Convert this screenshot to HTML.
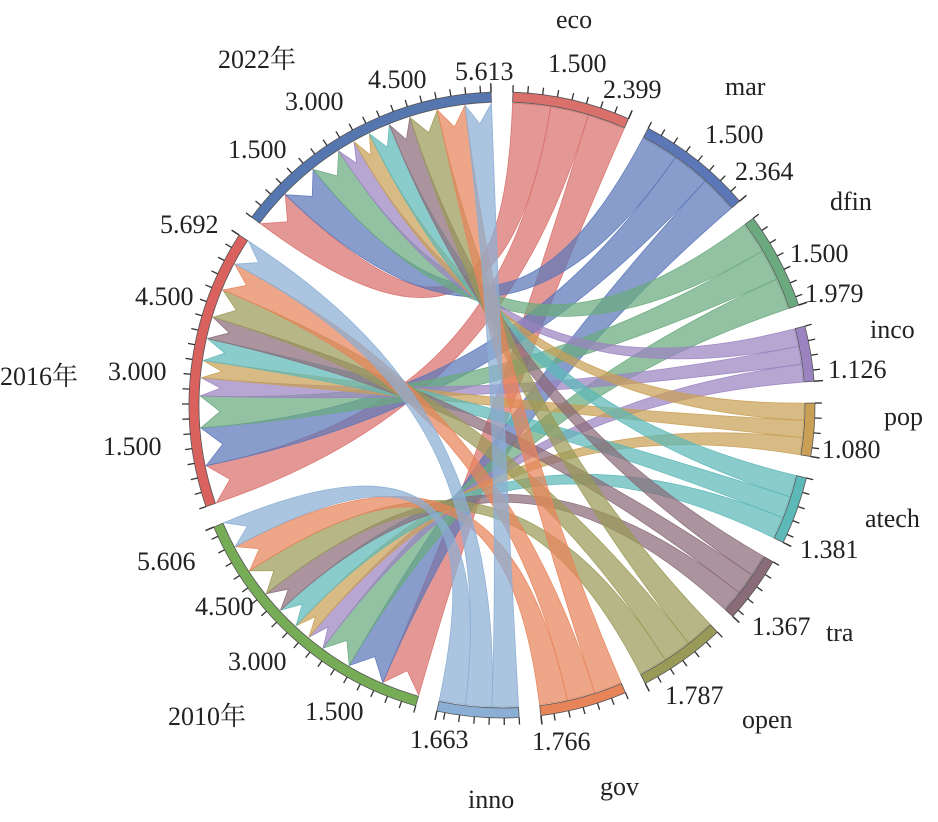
<!DOCTYPE html>
<html><head><meta charset="utf-8">
<style>
html,body{margin:0;padding:0;background:#fff;}
svg{display:block;}
text{font-family:"Liberation Serif","Noto Serif CJK SC",serif;font-size:26px;fill:#222;}
</style></head>
<body>
<svg id="s" width="938" height="822" viewBox="0 0 938 822" xmlns="http://www.w3.org/2000/svg">
<g id="rib"></g><g id="ring"></g>
<text x="556" y="28">eco</text>
<text x="455" y="80">5.613</text><text x="548" y="72">1.500</text><text x="603" y="98">2.399</text>
<text x="368" y="88">4.500</text><text x="285" y="110">3.000</text><text x="228" y="158">1.500</text><text x="218" y="68">2022年</text>
<text x="725" y="95">mar</text><text x="705" y="143">1.500</text><text x="735" y="180">2.364</text>
<text x="830" y="210">dfin</text><text x="790" y="262">1.500</text><text x="805" y="302">1.979</text>
<text x="870" y="338">inco</text><text x="828" y="378">1.126</text>
<text x="884" y="425">pop</text><text x="822" y="458">1.080</text>
<text x="865" y="527">atech</text><text x="800" y="558">1.381</text>
<text x="752" y="635">1.367</text><text x="826" y="641">tra</text>
<text x="665" y="704">1.787</text><text x="742" y="728">open</text>
<text x="532" y="750">1.766</text><text x="600" y="795">gov</text>
<text x="410" y="748">1.663</text><text x="468" y="808">inno</text>
<text x="168" y="725">2010年</text><text x="305" y="720">1.500</text><text x="228" y="670">3.000</text><text x="195" y="615">4.500</text><text x="137" y="570">5.606</text>
<text x="160" y="233">5.692</text><text x="135" y="305">4.500</text><text x="0" y="385">2016年</text><text x="108" y="380">3.000</text><text x="103" y="455">1.500</text>
</svg>
<script>
var cx=502,cy=405,R=313,Ri=303,Rr=302,g=4,k=(360-13*g)/33.823;
var cats=[["eco",2.399,"#d9706c"],["mar",2.364,"#5b77b8"],["dfin",1.979,"#6aaa7e"],["inco",1.126,"#9b83c1"],["pop",1.080,"#c9a055"],["atech",1.381,"#5db8b8"],["tra",1.367,"#8a6b78"],["open",1.787,"#9a9a58"],["gov",1.766,"#e8845a"],["inno",1.663,"#8aaed4"]];
var years=[["2010",5.606,"#77ac57"],["2016",5.692,"#d9625e"],["2022",5.613,"#5676b0"]];
function P(a,r){a=a*Math.PI/180;return [cx+r*Math.cos(a),cy+r*Math.sin(a)];}
var a=-88,segs=[];
cats.forEach(function(c){segs.push({s:a,e:a+c[1]*k,v:c[1],col:c[2]});a+=c[1]*k+g;});
years.forEach(function(y){segs.push({s:a,e:a+y[1]*k,v:y[1],col:y[2]});a+=y[1]*k+g;});
var ring="";
segs.forEach(function(s){
 var p1=P(s.s,Ri),p2=P(s.e,Ri),p3=P(s.e,R),p4=P(s.s,R),l=(s.e-s.s)>180?1:0;
 ring+='<path d="M'+p1+'A'+Ri+','+Ri+' 0 '+l+' 1 '+p2+'L'+p3+'A'+R+','+R+' 0 '+l+' 0 '+p4+'Z" fill="'+s.col+'" stroke="#555" stroke-width="0.8"/>';
 for(var t=0;t<=s.v+1e-6;t+=0.3){var an=s.s+t*k,q1=P(an,R),q2=P(an,R+7);ring+='<line x1="'+q1[0]+'" y1="'+q1[1]+'" x2="'+q2[0]+'" y2="'+q2[1]+'" stroke="#333" stroke-width="1.3"/>';}
 var q1=P(s.e,R),q2=P(s.e,R+9);ring+='<line x1="'+q1[0]+'" y1="'+q1[1]+'" x2="'+q2[0]+'" y2="'+q2[1]+'" stroke="#333" stroke-width="1.5"/>';
});
document.getElementById("ring").innerHTML=ring;
var yp=[segs[10].s,segs[11].s,segs[12].s];
var rib="",f=0.3;
var yorder=[2,1,0];
cats.forEach(function(c,i){
 var cs=segs[i].s;
 yorder.forEach(function(yi){
  var v=c[1]/3;
  var b1=cs,b2=cs+v*k;cs=b2;
  var ys=segs[10+yi],sc=(ys.e-ys.s)/(16.912/3*k);
  var a1=yp[yi],a2=a1+v*k*sc;yp[yi]=a2;
  var A1=P(a1,Rr),A2=P(a2,Rr),B1=P(b1,Rr),B2=P(b2,Rr);
  var tip=P((a1+a2)/2,Rr-20);
  rib+='<path d="M'+B1+'A'+Rr+','+Rr+' 0 0 1 '+B2+'C'+P(b2,Rr*f)+' '+P(a1,Rr*f)+' '+A1+'L'+tip+'L'+A2+'C'+P(a2,Rr*f)+' '+P(b1,Rr*f)+' '+B1+'Z" fill="'+c[2]+'" fill-opacity="0.72" stroke="'+c[2]+'" stroke-opacity="0.9" stroke-width="0.8"/>';
 });
});
document.getElementById("rib").innerHTML=rib;
</script>
</body></html>
